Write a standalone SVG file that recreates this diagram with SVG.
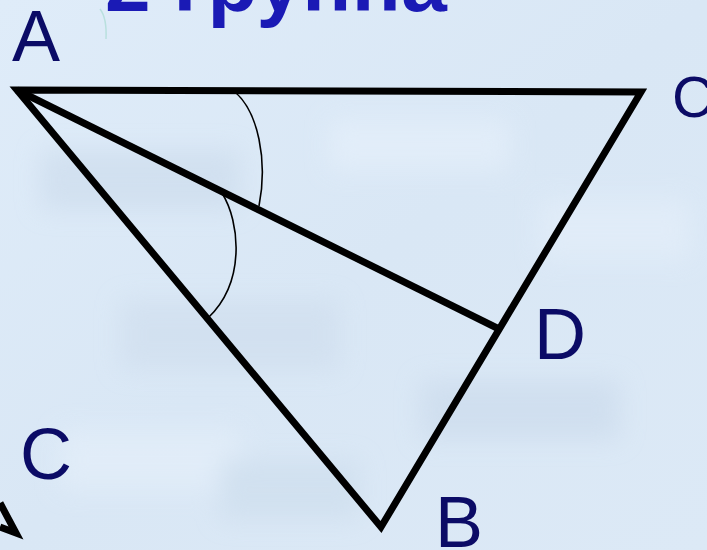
<svg xmlns="http://www.w3.org/2000/svg" width="707" height="550" viewBox="0 0 707 550">
  <defs>
    <linearGradient id="bg" x1="0" y1="0" x2="1" y2="1">
      <stop offset="0" stop-color="#dfecf9"/>
      <stop offset="0.5" stop-color="#d9e7f5"/>
      <stop offset="1" stop-color="#dce9f6"/>
    </linearGradient>
    <filter id="blur" x="-20%" y="-20%" width="140%" height="140%">
      <feGaussianBlur stdDeviation="12"/>
    </filter>
  </defs>
  <style>
    .lbl { font-family: "Liberation Sans", Arial, sans-serif; fill: #0b0b66; }
    .title { font-family: "Liberation Sans", Arial, sans-serif; font-weight: bold; fill: #1a1ab5; }
    .edge { stroke: #000; stroke-width: 7; fill: none; stroke-linejoin: miter; stroke-linecap: butt; }
    .arc { stroke: #000; stroke-width: 1.6; fill: none; }
  </style>
  <rect x="0" y="0" width="707" height="550" fill="url(#bg)"/>
  <g filter="url(#blur)" opacity="0.55">
    <rect x="40" y="150" width="200" height="60" fill="#c9d9ea"/>
    <rect x="330" y="120" width="180" height="50" fill="#e8f2fc"/>
    <rect x="120" y="300" width="220" height="70" fill="#cddcec"/>
    <rect x="420" y="380" width="200" height="60" fill="#c8d8ea"/>
    <rect x="540" y="200" width="150" height="60" fill="#e6f0fb"/>
    <rect x="60" y="430" width="180" height="60" fill="#e7f1fb"/>
    <rect x="220" y="460" width="140" height="60" fill="#cadbeb"/>
  </g>

  <text class="title" x="105" y="11" font-size="82">2 группа</text>
  <path d="M100,9 Q107,18 106,39" stroke="#b9e0de" stroke-width="1.5" fill="none"/>

  <g id="connectors">
    <polygon class="edge" points="17,90 641,92 381,527"/>
    <line class="edge" x1="17" y1="90" x2="497" y2="328"/>
    <path class="arc" d="M235,92 C258,112 268,160 259,206"/>
    <path class="arc" d="M222,193 C240,222 246,282 208,318"/>
    <polyline class="edge" stroke-width="6" points="0,503 16,533 0,527"/>
  </g>

  <g id="A"><text class="lbl" x="12" y="61" font-size="72">A</text></g>
  <g id="C1"><text class="lbl" x="672" y="117" font-size="58">C</text></g>
  <g id="D"><text class="lbl" x="534" y="359" font-size="72">D</text></g>
  <g id="B"><text class="lbl" x="435" y="547" font-size="72">B</text></g>
  <g id="C2"><text class="lbl" x="20" y="479" font-size="72">C</text></g>
</svg>
